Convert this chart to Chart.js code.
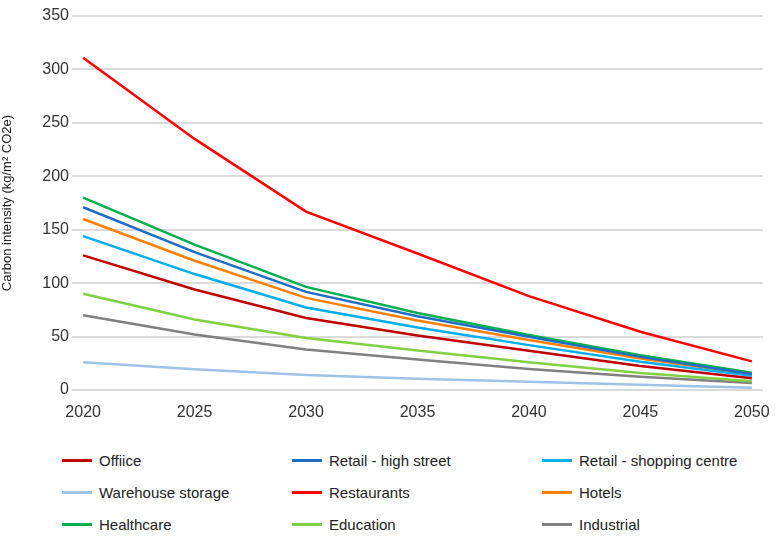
<!DOCTYPE html>
<html>
<head>
<meta charset="utf-8">
<script src="https://cdn.jsdelivr.net/npm/chart.js@4.4.1/dist/chart.umd.min.js"></script>
<style>
  html, body { margin: 0; padding: 0; background: #fff; }
  body { width: 782px; height: 536px; position: relative; overflow: hidden; font-family: "Liberation Sans", Arial, sans-serif; }
  #wrap { position: absolute; left: 0; top: 0; width: 782px; height: 430px; }
  #legend { position: absolute; left: 0; top: 444px; width: 782px; height: 92px; }
  .item { position: absolute; height: 32px; display: flex; align-items: center; font-size: 15px; color: #222; }
  .swatch { width: 30px; height: 3px; margin-right: 7px; }
</style>
</head>
<body>
<div id="wrap"><canvas id="chartCanvas" width="782" height="430"></canvas></div>
<div id="legend"></div>
<script>
// years with readings
const years = [2020, 2025, 2030, 2035, 2040, 2045, 2050];

const office = [126, 94, 67.3, 51, 36.7, 22.5, 10.9];
const retailHighStreet = [171, 129, 91.8, 69, 49.8, 31, 15];
const retailShopping = [144, 108.5, 77.2, 58.5, 42, 26.5, 13.4];
const warehouse = [26, 19.5, 14, 10.5, 7.8, 4.8, 2.2];
const restaurants = [311, 235, 167, 127.7, 87.8, 54.5, 26.8];
const hotels = [160, 121, 86.2, 65, 46.7, 29.5, 15];
const healthcare = [180, 136, 96.5, 72, 51.4, 32.5, 16.2];
const education = [90, 66, 48.6, 37, 25.9, 16, 8.1];
const industrial = [70, 52, 38, 28.5, 19.6, 12.5, 6.5];

const xTicks = [2020, 2025, 2030, 2035, 2040, 2045, 2050];

const series = [
  { label: "Offiice", data: office, color: "#c00000" },
  { label: "Retail - high street", data: retailHighStreet, color: "#1f6cc4" },
  { label: "Retail - shopping centre", data: retailShopping, color: "#00aeef" },
  { label: "Warehouse storage", data: warehouse, color: "#9dc3e6" },
  { label: "Restaurants", data: restaurants, color: "#ff0000" },
  { label: "Hotels", data: hotels, color: "#ff7f00" },
  { label: "Healthcare", data: healthcare, color: "#00b04f" },
  { label: "Education", data: education, color: "#7fd141" },
  { label: "Industrial", data: industrial, color: "#808080" }
];

const ctx = document.getElementById("chartCanvas").getContext("2d");

new Chart(ctx, {
  type: "line",
  data: {
    datasets: series.map(s => ({
      label: s.label,
      data: s.data.map((v, i) => ({ x: years[i], y: v })),
      borderColor: s.color,
      backgroundColor: s.color,
      borderWidth: 2.5,
      pointRadius: 0,
      tension: 0,
      fill: false
    }))
  },
  options: {
    responsive: false,
    animation: false,
    layout: { padding: { top: 16, right: 19, bottom: 0, left: 0 } },
    plugins: {
      legend: { display: false },
      tooltip: { enabled: false }
    },
    scales: {
      x: {
        type: "linear",
        min: 2019.5,
        max: 2050.5,
        afterBuildTicks: axis => {
          axis.ticks = xTicks.map(v => ({ value: v }));
        },
        afterFit: axis => { axis.height = 40; },
        grid: { display: false },
        border: { display: false },
        ticks: {
          color: "#333",
          font: { family: "Liberation Sans", size: 16 },
          padding: 5,
          maxRotation: 0,
          callback: v => String(v)
        }
      },
      y: {
        min: 0,
        max: 350,
        afterFit: axis => { axis.width = 72; },
        ticks: {
          stepSize: 50,
          color: "#333",
          font: { family: "Liberation Sans", size: 16 },
          padding: 3
        },
        grid: { color: "#dadada", lineWidth: 2, drawTicks: false },
        border: { display: false },
        title: {
          display: true,
          text: "Carbon intensity (kg/m² CO2e)",
          color: "#222",
          font: { family: "Liberation Sans", size: 13 },
          padding: { top: 0, bottom: 4 }
        }
      }
    }
  }
});

// legend in three columns
const cols = [62, 292, 542];
const legend = document.getElementById("legend");
series.forEach((s, i) => {
  const item = document.createElement("div");
  item.className = "item";
  item.style.left = cols[i % 3] + "px";
  item.style.top = (Math.floor(i / 3) * 32) + "px";
  item.innerHTML = `<span class="swatch" style="background:${s.color}"></span><span>${s.label}</span>`;
  legend.appendChild(item);
});
</script>
</body>
</html>
